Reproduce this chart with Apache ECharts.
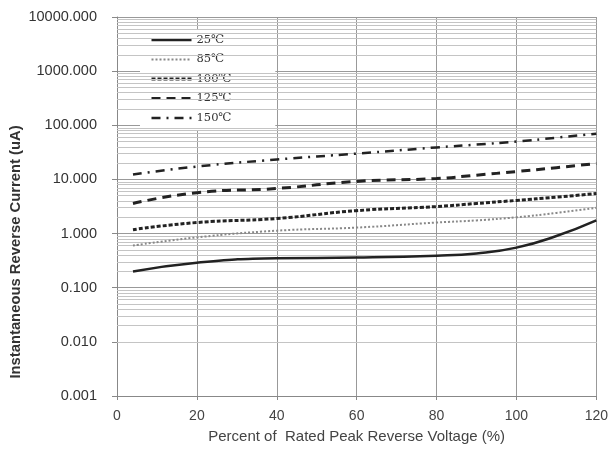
<!DOCTYPE html>
<html><head><meta charset="utf-8">
<script src="https://cdn.jsdelivr.net/npm/echarts@6/dist/echarts.min.js"></script>
<style>html,body{margin:0;padding:0;background:#fff}#c{width:611px;height:459px}</style>
</head><body><div id="c"></div>
<script>
const xCats = [4, 20, 40, 60, 80, 90, 100, 110, 120];
const seriesNames = ['25℃', '85℃', '100℃', '125℃', '150℃'];
const s25  = [0.20, 0.29, 0.35, 0.36, 0.39, 0.43, 0.55, 0.90, 1.75];
const s85  = [0.60, 0.85, 1.13, 1.29, 1.60, 1.75, 2.00, 2.40, 3.00];
const s100 = [1.18, 1.60, 1.90, 2.65, 3.15, 3.60, 4.10, 4.70, 5.50];
const s125 = [3.6, 5.7, 6.8, 9.2, 10.4, 12.0, 14.0, 16.5, 19.7];
const s150 = [12.3, 17.3, 23.3, 30, 39, 44, 50, 59, 70];
const yTicks = [0.001, 0.01, 0.1, 1, 10, 100, 1000, 10000];

const allData = [s25, s85, s100, s125, s150];
const styles = [
  {type:'solid', width:2.5},
  {type:[2,2], width:2, color:'#888'},
  {type:[4,2], width:3},
  {type:[9,6], width:3},
  {type:[9,6,2,6], width:2.5}
];
// minor gridlines for log axis (2..9 within each decade)
const minorLines = [];
for (let d = 0; d < yTicks.length - 1; d++) {
  for (let m = 2; m <= 9; m++) minorLines.push({yAxis: +(yTicks[d] * m).toPrecision(6)});
}
const series = seriesNames.map((n, i) => ({
  name: n, type: 'line', smooth: true, symbol: 'none',
  data: xCats.map((x, j) => [x, allData[i][j]]),
  lineStyle: Object.assign({color: '#222'}, styles[i]),
  itemStyle: {color: styles[i].color || '#222'},
  z: 5
}));
series.push({
  type: 'line', data: [], silent: true, z: 1,
  markLine: {silent: true, symbol: 'none', label: {show: false},
    lineStyle: {color: '#c4c4c4', type: 'solid', width: 1},
    data: minorLines}
});
const chart = echarts.init(document.getElementById('c'));
chart.setOption({
  animation: false,
  grid: {left: 117, right: 14, top: 17, bottom: 63},
  graphic: [{
    type: 'text', x: 16, y: 252, rotation: Math.PI / 2,
    style: {text: 'Instantaneous Reverse Current (uA)', textAlign: 'center', textVerticalAlign: 'middle',
      fontFamily: 'Liberation Sans', fontSize: 14.8, fontWeight: 'bold', fill: '#333'}
  }],
  legend: {
    orient: 'vertical', left: 140, top: 30, itemGap: 7.5,
    itemWidth: 40, itemHeight: 14, backgroundColor: '#fff', padding: [4, 44, 6, 10],
    data: seriesNames.map((n, i) => ({name: n, lineStyle: {width: styles[i].width, type: styles[i].type, color: styles[i].color || '#222'}})),
    itemStyle: {opacity: 0},
    textStyle: {fontFamily: 'DejaVu Serif', fontSize: 11.5, color: '#333'}
  },
  xAxis: {
    type: 'value', min: 0, max: 120, interval: 20,
    name: 'Percent of  Rated Peak Reverse Voltage (%)', nameLocation: 'middle', nameGap: 33,
    nameTextStyle: {fontFamily: 'Liberation Sans', fontSize: 15, color: '#444'},
    axisLine: {lineStyle: {color: '#888'}},
    axisTick: {show: true, length: 4, lineStyle: {color: '#888'}},
    axisLabel: {fontFamily: 'Liberation Sans', fontSize: 14, color: '#444', margin: 13},
    splitLine: {show: true, lineStyle: {color: '#999', width: 1}}
  },
  yAxis: {
    type: 'log', logBase: 10, min: 0.001, max: 10000,
    axisLine: {show: true, lineStyle: {color: '#888'}},
    axisTick: {show: true, length: 5, lineStyle: {color: '#888'}},
    axisLabel: {fontFamily: 'Liberation Sans', fontSize: 14.5, color: '#333', margin: 20,
      formatter: v => Number(v).toFixed(3)},
    splitLine: {show: true, lineStyle: {color: '#999', width: 1}}
  },
  series: series
});
</script></body></html>
